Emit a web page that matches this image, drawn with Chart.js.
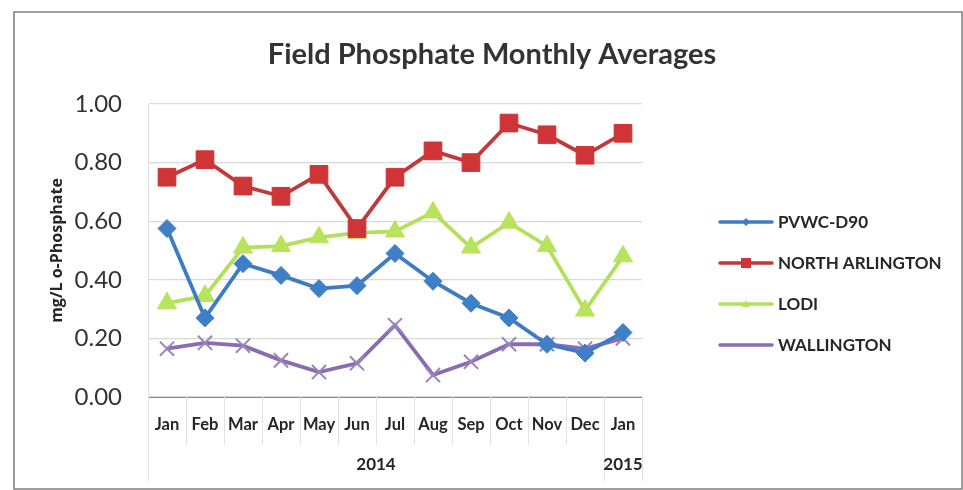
<!DOCTYPE html>
<html>
<head>
<meta charset="utf-8">
<script src="https://cdn.jsdelivr.net/npm/chart.js@4.4.0/dist/chart.umd.min.js"></script>
<style>
  html, body { margin: 0; padding: 0; background: #fff; }
  #wrap { width: 963px; height: 490px; position: relative; }
</style>
</head>
<body>
<div id="wrap"><canvas id="phosChart"></canvas></div>
<script>
const months = ["Jan", "Feb", "Mar", "Apr", "May", "Jun", "Jul", "Aug", "Sep", "Oct", "Nov", "Dec", "Jan"];
const yearLabels = ["2014", "2015"];
const yearFirstIndex = [0, 12];
const yearLastIndex = [11, 12];

const pvwc = [0.575, 0.27, 0.455, 0.415, 0.37, 0.38, 0.49, 0.395, 0.32, 0.27, 0.18, 0.15, 0.22];
const northArlington = [0.75, 0.81, 0.72, 0.685, 0.76, 0.575, 0.75, 0.84, 0.80, 0.935, 0.895, 0.825, 0.90];
const lodi = [0.32, 0.345, 0.51, 0.515, 0.545, 0.56, 0.565, 0.63, 0.51, 0.595, 0.515, 0.295, 0.48];
const wallington = [0.165, 0.185, 0.175, 0.125, 0.085, 0.115, 0.245, 0.075, 0.12, 0.18, 0.18, 0.165, 0.20];

const yTicks = [0, 0.2, 0.4, 0.6, 0.8, 1.0];

const chartTitle = "Field Phosphate Monthly Averages";
const FONT = "Lato, 'Open Sans', sans-serif";

// small line+marker icon for the legend
const legendIcon = (lineColor, markColor, style) => {
  const c = document.createElement("canvas");
  c.width = 58;
  c.height = 16;
  const g = c.getContext("2d");
  g.strokeStyle = lineColor;
  g.lineWidth = 3.5;
  g.lineCap = "round";
  g.beginPath();
  g.moveTo(3, 8);
  g.lineTo(55, 8);
  g.stroke();
  g.fillStyle = markColor;
  if (style === "rectRot") {
    g.beginPath();
    g.moveTo(29, 4); g.lineTo(33, 8); g.lineTo(29, 12); g.lineTo(25, 8);
    g.closePath(); g.fill();
  } else if (style === "rect") {
    g.fillRect(24, 3, 10, 10);
  } else if (style === "triangle") {
    g.beginPath();
    g.moveTo(29, 4); g.lineTo(33, 11); g.lineTo(25, 11);
    g.closePath(); g.fill();
  }
  return c;
};

const series = [
  { label: "PVWC-D90", data: pvwc, line: "#3d7cc2", mark: "#3f7fc8", style: "rectRot", r: 9 },
  { label: "NORTH ARLINGTON", data: northArlington, line: "#c0393b", mark: "#cf3437", style: "rect", r: 12.5 },
  { label: "LODI", data: lodi, line: "#b3e05a", mark: "#b8e35c", style: "triangle", r: 11 },
  { label: "WALLINGTON", data: wallington, line: "#8a6cb0", mark: "#9a84bd", style: "crossRot", r: 10 },
];

const decorations = {
  id: "decorations",
  beforeDraw(chart) {
    const ctx = chart.ctx;
    ctx.save();
    ctx.fillStyle = "#fff";
    ctx.fillRect(0, 0, chart.width, chart.height);
    ctx.strokeStyle = "#7f7f7f";
    ctx.lineWidth = 1.5;
    ctx.strokeRect(14, 12, chart.width - 15, chart.height - 13);
    ctx.restore();
  },
  afterDraw(chart) {
    const ctx = chart.ctx;
    const x = chart.scales.x;
    const area = chart.chartArea;
    const step = x.width / months.length;
    ctx.save();

    // category separators under the axis
    ctx.strokeStyle = "#e3e3e3";
    ctx.lineWidth = 1;
    for (let i = 0; i <= months.length; i++) {
      const px = Math.round(x.left + i * step) + 0.5;
      ctx.beginPath();
      ctx.moveTo(px, x.top);
      ctx.lineTo(px, i === 0 || i === 12 || i === 13 ? x.top + 84 : x.top + 48);
      ctx.stroke();
    }

    // year row
    ctx.fillStyle = "#262626";
    ctx.font = "bold 17px " + FONT;
    ctx.textAlign = "center";
    ctx.textBaseline = "middle";
    yearLabels.forEach((lab, i) => {
      const cx = (x.getPixelForValue(yearFirstIndex[i]) + x.getPixelForValue(yearLastIndex[i])) / 2;
      ctx.fillText(lab, cx, x.top + 68);
    });

    // title
    ctx.fillStyle = "#333";
    ctx.font = "bold 29px " + FONT;
    ctx.fillText(chartTitle, 492, 55);

    // legend
    ctx.textAlign = "left";
    ctx.font = "bold 17px " + FONT;
    chart.data.datasets.forEach((ds, i) => {
      const ly = 222 + i * 41;
      ctx.drawImage(ds.legendIcon, area.right + 75, ly - 8);
      ctx.fillStyle = "#262626";
      ctx.fillText(ds.label, area.right + 136, ly + 1);
    });
    ctx.restore();
  },
};

new Chart(document.getElementById("phosChart"), {
  type: "line",
  data: {
    labels: months,
    datasets: series.map((s) => ({
      label: s.label,
      data: s.data,
      borderColor: s.line,
      backgroundColor: s.mark,
      pointBackgroundColor: s.mark,
      pointBorderColor: s.mark,
      pointStyle: s.style,
      pointRadius: s.r,
      pointBorderWidth: s.style === "crossRot" ? 2 : 1,
      borderWidth: 3.8,
      tension: 0,
      legendIcon: legendIcon(s.line, s.mark, s.style),
    })),
  },
  options: {
    responsive: true,
    maintainAspectRatio: false,
    animation: false,
    layout: { padding: { left: 48, right: 321, top: 104, bottom: 0 } },
    scales: {
      x: {
        offset: true,
        grid: { display: false },
        border: { display: true, color: "#8c8c8c", width: 1 },
        ticks: {
          color: "#262626",
          padding: 10,
          maxRotation: 0,
          minRotation: 0,
          autoSkip: false,
          font: { family: FONT, size: 16.5, weight: "bold" },
        },
        afterFit: (scale) => { scale.height = 93; },
      },
      y: {
        min: 0,
        max: 1,
        afterBuildTicks: (scale) => { scale.ticks = yTicks.map((v) => ({ value: v })); },
        grid: { color: "#d9d9d9", lineWidth: 1.2, drawTicks: false },
        border: { display: true, color: "#e0e0e0" },
        ticks: {
          color: "#333",
          padding: 26,
          font: { family: FONT, size: 24 },
          callback: (v) => Number(v).toFixed(2),
        },
        title: {
          display: true,
          text: "mg/L o-Phosphate",
          color: "#262626",
          font: { family: "'Open Sans', sans-serif", size: 16, weight: "bold" },
          padding: { top: 0, bottom: 0 },
        },
        afterFit: (scale) => { scale.width = 100; },
      },
    },
    plugins: {
      title: { display: false },
      legend: { display: false },
      tooltip: { enabled: false },
    },
  },
  plugins: [decorations],
});
</script>
</body>
</html>
